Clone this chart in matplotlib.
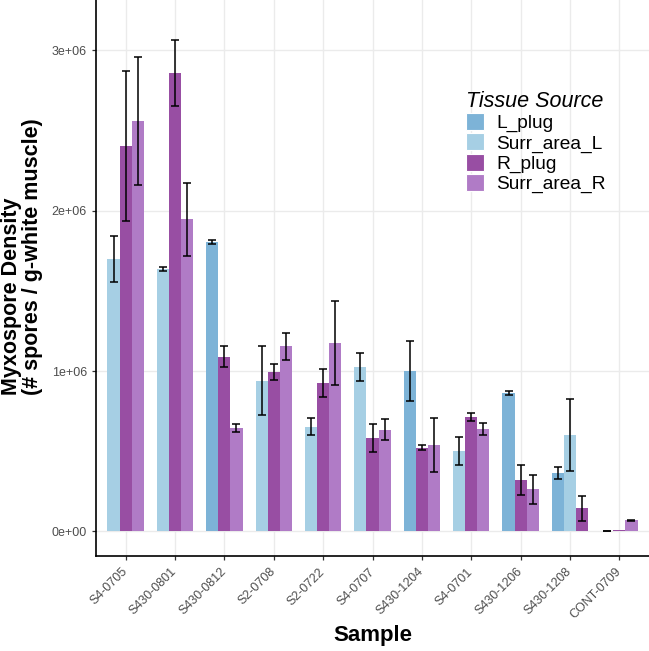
import numpy as np
import matplotlib
matplotlib.use("Agg")
import matplotlib.pyplot as plt
from matplotlib.patches import Patch

plt.rcParams["font.family"] = ["Liberation Sans", "DejaVu Sans"]

samples = ["S4-0705", "S430-0801", "S430-0812", "S2-0708", "S2-0722", "S4-0707",
           "S430-1204", "S4-0701", "S430-1206", "S430-1208", "CONT-0709"]
groups = ["L_plug", "Surr_area_L", "R_plug", "Surr_area_R"]
colors = ["#7db3d7", "#a6cfe4", "#984ea3", "#b07bc6"]

# mean density per sample (None = no data for that tissue source)
l_plug      = [None, None, 1.803e6, None, None, None, 1.001e6, None, 0.862e6, 0.364e6, 0.0]
surr_area_l = [1.699e6, 1.635e6, None, 0.941e6, 0.654e6, 1.026e6, None, 0.503e6, None, 0.601e6, None]
r_plug      = [2.403e6, 2.858e6, 1.090e6, 0.993e6, 0.928e6, 0.582e6, 0.523e6, 0.713e6, 0.320e6, 0.146e6, 0.010e6]
surr_area_r = [2.559e6, 1.946e6, 0.644e6, 1.153e6, 1.174e6, 0.634e6, 0.538e6, 0.638e6, 0.264e6, None, 0.071e6]

# standard errors
l_plug_se      = [None, None, 0.012e6, None, None, None, 0.185e6, None, 0.012e6, 0.040e6, 0.0]
surr_area_l_se = [0.141e6, 0.013e6, None, 0.217e6, 0.052e6, 0.087e6, None, 0.087e6, None, 0.227e6, None]
r_plug_se      = [0.470e6, 0.207e6, 0.065e6, 0.050e6, 0.087e6, 0.087e6, 0.013e6, 0.026e6, 0.092e6, 0.078e6, None]
surr_area_r_se = [0.400e6, 0.228e6, 0.026e6, 0.087e6, 0.263e6, 0.065e6, 0.169e6, 0.038e6, 0.091e6, None, 0.003e6]

means = [l_plug, surr_area_l, r_plug, surr_area_r]
ses = [l_plug_se, surr_area_l_se, r_plug_se, surr_area_r_se]

fig = plt.figure(figsize=(6.49, 6.51), dpi=100)
ax = fig.add_axes([96 / 649, 1 - 556 / 651, 1 - 96 / 649, 556 / 651])

w = 0.245
x = np.arange(len(samples))
for i in range(len(samples)):
    present = [g for g in range(len(groups)) if means[g][i] is not None]
    n = len(present)
    for k, g in enumerate(present):
        xpos = x[i] + (k - (n - 1) / 2) * w
        ax.bar(xpos, means[g][i], width=w, color=colors[g], zorder=2)
        if ses[g][i] is not None:
            ax.errorbar(xpos, means[g][i], yerr=ses[g][i], color="black", lw=1.1,
                        capsize=2.6, capthick=1.1, zorder=3)

ax.set_xlim(-0.6, len(samples) - 0.4)
ax.set_ylim(-0.153e6, 3.313e6)
ax.set_yticks([0, 1e6, 2e6, 3e6])
ax.set_yticklabels(["0e+00", "1e+06", "2e+06", "3e+06"])
ax.set_xticks(x)
ax.set_xticklabels(samples, rotation=45, ha="right", va="center",
                   rotation_mode="anchor")
ax.tick_params(axis="both", labelsize=9, labelcolor="#4d4d4d", color="#333333",
               length=3, width=0.9)
ax.tick_params(axis="x", pad=7)
ax.grid(True, color="#ebebeb", lw=1.0, zorder=0)
ax.set_axisbelow(True)
for s in ["top", "right"]:
    ax.spines[s].set_visible(False)
for s in ["left", "bottom"]:
    ax.spines[s].set_linewidth(1.2)

ax.set_ylabel("Myxospore Density\n(# spores / g-white muscle)", fontsize=15.5,
              fontweight="bold", linespacing=1.0, multialignment="left")
ax.yaxis.set_label_coords(-0.096, 0.538)
ax.set_xlabel("Sample", fontsize=16, fontweight="bold", labelpad=3)

handles = [Patch(facecolor=c, edgecolor="white", lw=0.8, label=g)
           for g, c in zip(groups, colors)]
leg = ax.legend(handles=handles, title="Tissue Source", loc="upper left",
                bbox_to_anchor=(0.655, 0.85), frameon=False, fontsize=13.8,
                title_fontsize=15.5, handlelength=0.95, handleheight=1.0,
                handletextpad=0.65, labelspacing=0.05, borderaxespad=0)
leg.get_title().set_fontstyle("italic")
leg._legend_box.align = "left"

fig.savefig("out.png", dpi=100)
